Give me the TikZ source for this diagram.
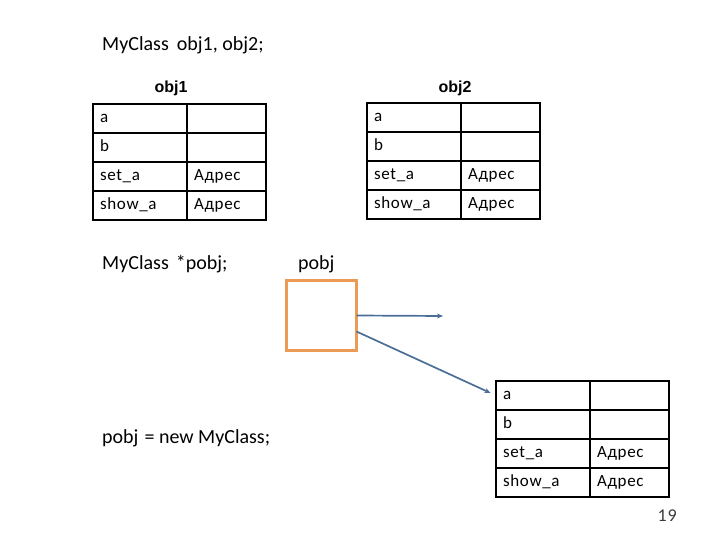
\documentclass[tikz,border=0pt]{standalone}
\usepackage{fontspec}
\setmainfont{Carlito}
\newfontfamily\arialf{Liberation Sans}
\newfontfamily\cellf[LetterSpace=4]{Carlito}
\usetikzlibrary{arrows.meta,calc}
\definecolor{boxorange}{RGB}{235,155,85}
\definecolor{arrowblue}{RGB}{74,110,150}
\definecolor{pagegray}{RGB}{60,60,60}
\newcommand\objtbl[3]{%
  \foreach \n/\t/\v [count=\i from 0] in {a/a/{},b/b/{},s/set\_a/Адрес,h/show\_a/Адрес} {
    \node[cell, text width=80pt] (#1\n1) at (#2, {#3+29*\i}) {\t};
    \node[cell, text width=65pt] (#1\n2) at ({#2+94}, {#3+29*\i}) {\v};
  }%
}
\begin{document}
\begin{tikzpicture}[x=1pt,y=-1pt,
  cell/.style={draw, line width=2.2pt, outer sep=0pt, minimum height=29pt,
    inner ysep=0pt, inner xsep=7pt, text height=12pt, text depth=4pt,
    align=left, font=\cellf\fontsize{17}{20}\selectfont, anchor=north west},
  code/.style={anchor=base west, inner sep=0pt, font=\fontsize{20}{24}\selectfont},
  objlbl/.style={anchor=base, inner sep=0pt, font=\arialf\bfseries\fontsize{16}{19}\selectfont},
  ptr/.style={draw=arrowblue, line width=1.7pt, -{Stealth[length=6pt,width=5pt]}}]
\useasboundingbox (0,0) rectangle (720,540);

\node[code] (decl) at (102,51) {MyClass\hspace{8pt}obj1, obj2;};
\node[objlbl] (lbl1) at (171,93) {obj1};
\node[objlbl] (lbl2) at (455,93) {obj2};

\objtbl{t}{93}{104}
\objtbl{u}{367}{103}
\objtbl{v}{496}{381}

\node[code] (pdecl) at (102,269) {MyClass\hspace{7pt}*pobj;};
\node[code] (plbl) at (298,269) {pobj};
\node[code] (pnew) at (102,443) {pobj\hspace{6pt}= new MyClass;};

\node[draw=boxorange, line width=3pt, minimum width=70pt, minimum height=70pt,
  inner sep=0pt, outer sep=0pt] (pobj) at (321.5,315.5) {};

\coordinate (free) at (443,316);
\draw[ptr] (pobj.east) -- (free);
\draw[ptr, shorten >=6pt] ($(pobj.east)+(0,16)$) -- (va1.west);

\node[anchor=base east, inner sep=0pt, text=pagegray, font=\fontsize{18}{21}\selectfont] (pnum) at (677,521) {1\kern1pt 9};
\end{tikzpicture}
\end{document}
